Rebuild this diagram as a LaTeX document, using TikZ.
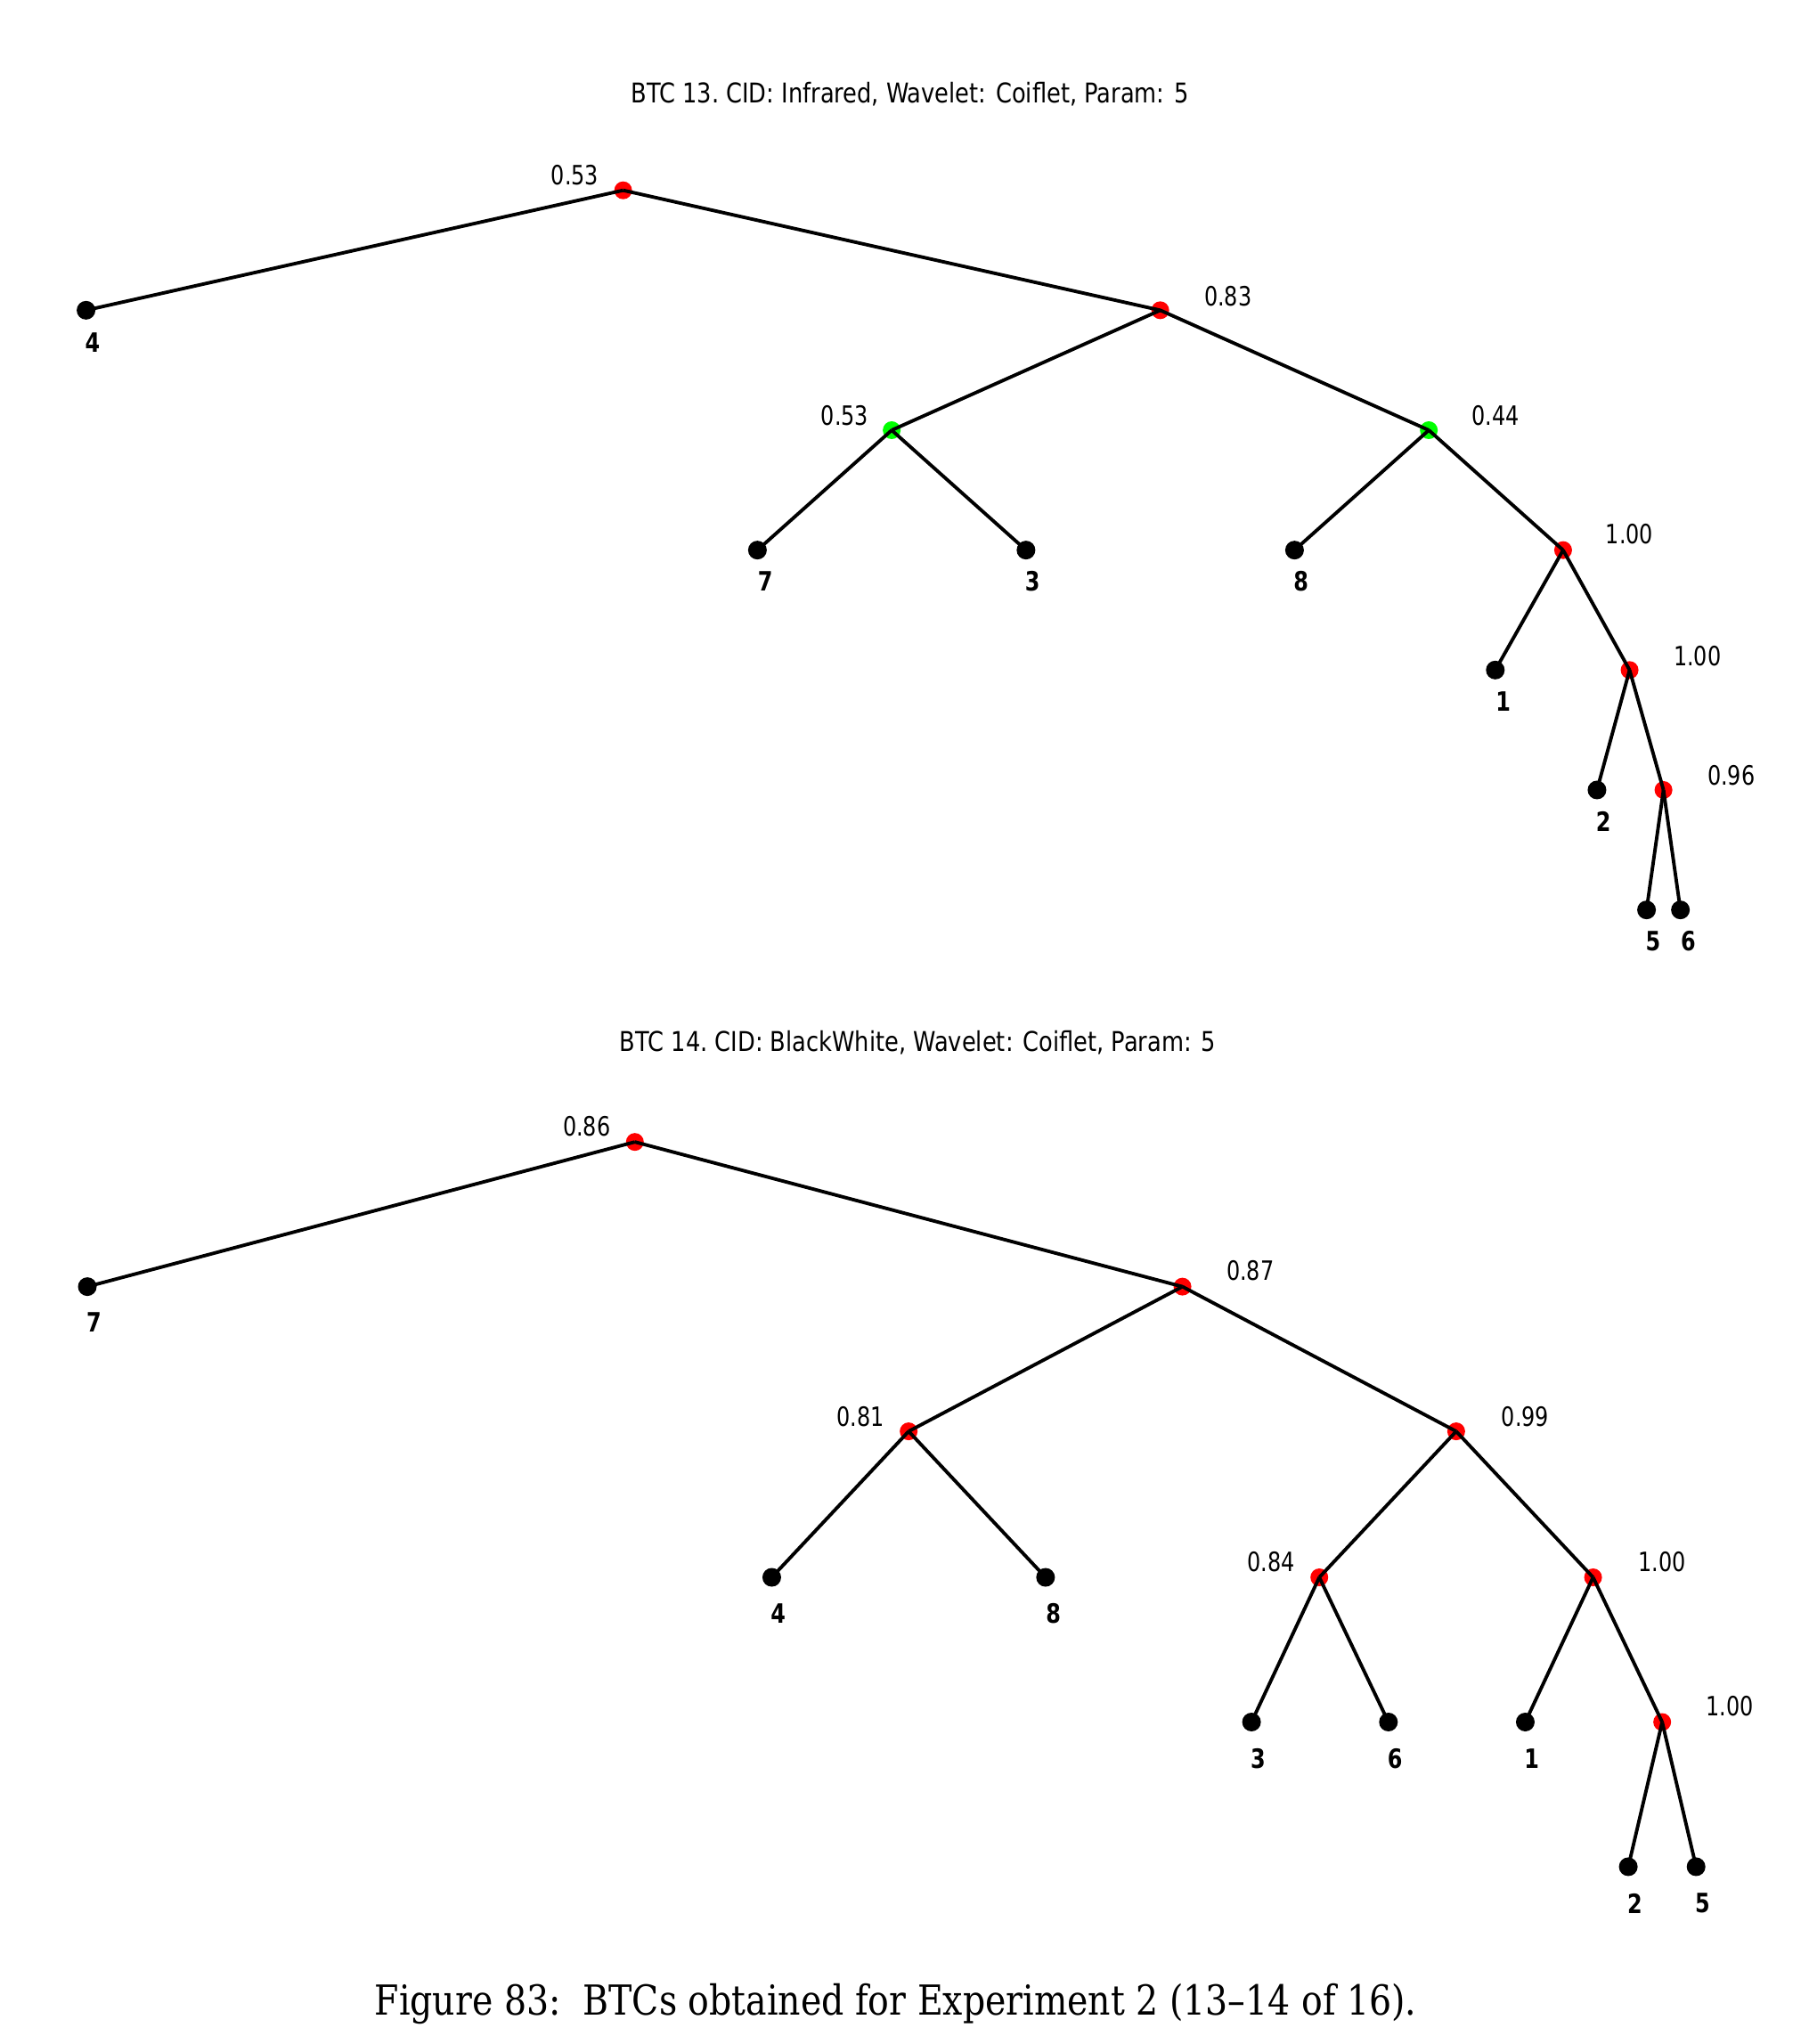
\documentclass[tikz,border=0pt]{standalone}
\usepackage{fontspec}
\setmainfont{DejaVu Serif}[FakeStretch=0.85]
\newfontfamily\plotfont{DejaVu Sans}[FakeStretch=0.8]
\newfontfamily\titlefont{DejaVu Sans}[FakeStretch=0.84]
\begin{document}
\begin{tikzpicture}[x=0.014636cm,y=-0.014636cm,
  inner/.style={circle,fill=red,inner sep=0pt,minimum size=0.2cm},
  innerg/.style={circle,fill=green,inner sep=0pt,minimum size=0.2cm},
  leaf/.style={circle,fill=black,inner sep=0pt,minimum size=0.21cm},
  val/.style={font=\plotfont\fontsize{8.5}{10}\selectfont,inner sep=0pt},
  lab/.style={font=\plotfont\bfseries\fontsize{8.5}{10}\selectfont,inner sep=0pt},
  ttl/.style={font=\titlefont\fontsize{8.7}{10}\selectfont,inner sep=0pt},
  edge/.style={line width=1.1pt,black}]
\useasboundingbox[fill=white] (0,0) rectangle (1387,1568);
% ---------- Tree 1 ----------
\node[ttl] (t1) at (698,72) {BTC 13.\ CID: Infrared, Wavelet: Coiflet, Param: 5};
\node[inner] (a0) at (478,146) {};
\node[leaf] (a4) at (66,238) {};
\node[inner] (a1) at (890,238) {};
\node[innerg] (a2) at (684,330) {};
\node[innerg] (a3) at (1096,330) {};
\node[leaf] (a7) at (581,422) {};
\node[leaf] (a3l) at (787,422) {};
\node[leaf] (a8) at (993,422) {};
\node[inner] (a5) at (1199,422) {};
\node[leaf] (a1l) at (1147,514) {};
\node[inner] (a6) at (1250,514) {};
\node[leaf] (a2l) at (1225,606) {};
\node[inner] (a9) at (1276,606) {};
\node[leaf] (a5l) at (1263,698) {};
\node[leaf] (a6l) at (1289,698) {};
\foreach \p/\c in {a0/a4,a0/a1,a1/a2,a1/a3,a2/a7,a2/a3l,a3/a8,a3/a5,a5/a1l,a5/a6,a6/a2l,a6/a9,a9/a5l,a9/a6l}
  \draw[edge] (\p.center) -- (\c.center);
\node[val] (va0) at (441,134) {0.53};
\node[val] (va1) at (942,227) {0.83};
\node[val] (va2) at (648,319) {0.53};
\node[val] (va3) at (1147,319) {0.44};
\node[val] (va5) at (1250,410) {1.00};
\node[val] (va6) at (1302,503) {1.00};
\node[val] (va9) at (1328,595) {0.96};
\node[lab] (la4) at (71,263) {4};
\node[lab] (la7) at (587,446) {7};
\node[lab] (la3) at (792,446) {3};
\node[lab] (la8) at (998,446) {8};
\node[lab] (la1) at (1153,538) {1};
\node[lab] (la2) at (1230,630) {2};
\node[lab] (la5) at (1268,722) {5};
\node[lab] (la6) at (1295,722) {6};
% ---------- Tree 2 ----------
\node[ttl] (t2) at (704,800) {BTC 14.\ CID: BlackWhite, Wavelet: Coiflet, Param: 5};
\node[inner] (b0) at (487,876) {};
\node[leaf] (b7) at (67,987) {};
\node[inner] (b1) at (907,987) {};
\node[inner] (b2) at (697,1098) {};
\node[inner] (b3) at (1117,1098) {};
\node[leaf] (b4l) at (592,1210) {};
\node[leaf] (b8l) at (802,1210) {};
\node[inner] (b4) at (1012,1210) {};
\node[inner] (b5) at (1222,1210) {};
\node[leaf] (b3l) at (960,1321) {};
\node[leaf] (b6l) at (1065,1321) {};
\node[leaf] (b1l) at (1170,1321) {};
\node[inner] (b6) at (1275,1321) {};
\node[leaf] (b2l) at (1249,1432) {};
\node[leaf] (b5l) at (1301,1432) {};
\foreach \p/\c in {b0/b7,b0/b1,b1/b2,b1/b3,b2/b4l,b2/b8l,b3/b4,b3/b5,b4/b3l,b4/b6l,b5/b1l,b5/b6,b6/b2l,b6/b5l}
  \draw[edge] (\p.center) -- (\c.center);
\node[val] (vb0) at (450,864) {0.86};
\node[val] (vb1) at (959,975) {0.87};
\node[val] (vb2) at (660,1087) {0.81};
\node[val] (vb3) at (1170,1087) {0.99};
\node[val] (vb4) at (975,1198) {0.84};
\node[val] (vb5) at (1275,1198) {1.00};
\node[val] (vb6) at (1327,1309) {1.00};
\node[lab] (lb7) at (72,1014) {7};
\node[lab] (lb4) at (597,1238) {4};
\node[lab] (lb8) at (808,1238) {8};
\node[lab] (lb3) at (965,1349) {3};
\node[lab] (lb6) at (1070,1349) {6};
\node[lab] (lb1) at (1175,1349) {1};
\node[lab] (lb2) at (1254,1460) {2};
\node[lab] (lb5) at (1306,1460) {5};
% ---------- Caption ----------
\node[font=\fontsize{13.2}{15}\selectfont,inner sep=0pt] (cap) at (687,1537) {Figure 83:\ \ BTCs obtained for Experiment 2 (13--14 of 16).};
\end{tikzpicture}
\end{document}
